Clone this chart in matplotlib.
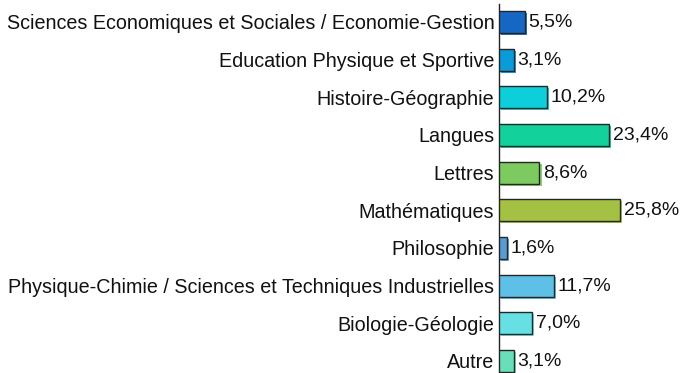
import matplotlib.pyplot as plt
import matplotlib.patheffects as pe

plt.rcParams['font.family'] = ['Liberation Sans', 'DejaVu Sans']

categories = [
    'Sciences Economiques et Sociales / Economie-Gestion',
    'Education Physique et Sportive',
    'Histoire-Géographie',
    'Langues',
    'Lettres',
    'Mathématiques',
    'Philosophie',
    'Physique-Chimie / Sciences et Techniques Industrielles',
    'Biologie-Géologie',
    'Autre',
]
values = [5.5, 3.1, 10.2, 23.4, 8.6, 25.8, 1.6, 11.7, 7.0, 3.1]
colors = ['#1666c4', '#0a9bd8', '#0dcfd9', '#12d19a', '#7dcb60',
          '#a4c143', '#5b9bd5', '#5ec0e6', '#67e0e4', '#68dfb9']

fig = plt.figure(figsize=(6.8, 3.73), dpi=100)
ax = fig.add_axes([0.734, 0.0, 0.262, 1.0])

y = list(range(len(categories)))
bars = ax.barh(y, values, height=0.58, color=colors,
               edgecolor='#262626', linewidth=1.0, zorder=3)
for bar, c in zip(bars, colors):
    bar.set_path_effects([pe.SimplePatchShadow(offset=(1.5, -1.5),
                                               shadow_rgbFace=c, alpha=0.9),
                          pe.Normal()])

for yi, v in zip(y, values):
    ax.text(v + 0.8, yi, f'{v:.1f}'.replace('.', ',') + '%',
            va='center', ha='left', fontsize=14, color='#111111')

ax.set_xlim(0, 38)
ax.set_ylim(9.32, -0.584)
ax.set_yticks(y)
ax.set_yticklabels(categories, fontsize=14.2, color='#111111')
ax.tick_params(axis='y', length=0, pad=3.5)
ax.set_xticks([])
for s in ['top', 'right', 'bottom']:
    ax.spines[s].set_visible(False)
ax.spines['left'].set_color('#222222')
ax.spines['left'].set_linewidth(1.0)
ax.spines['left'].set_bounds(9.32, -0.47)

fig.savefig('out.png', dpi=100, facecolor='white')
